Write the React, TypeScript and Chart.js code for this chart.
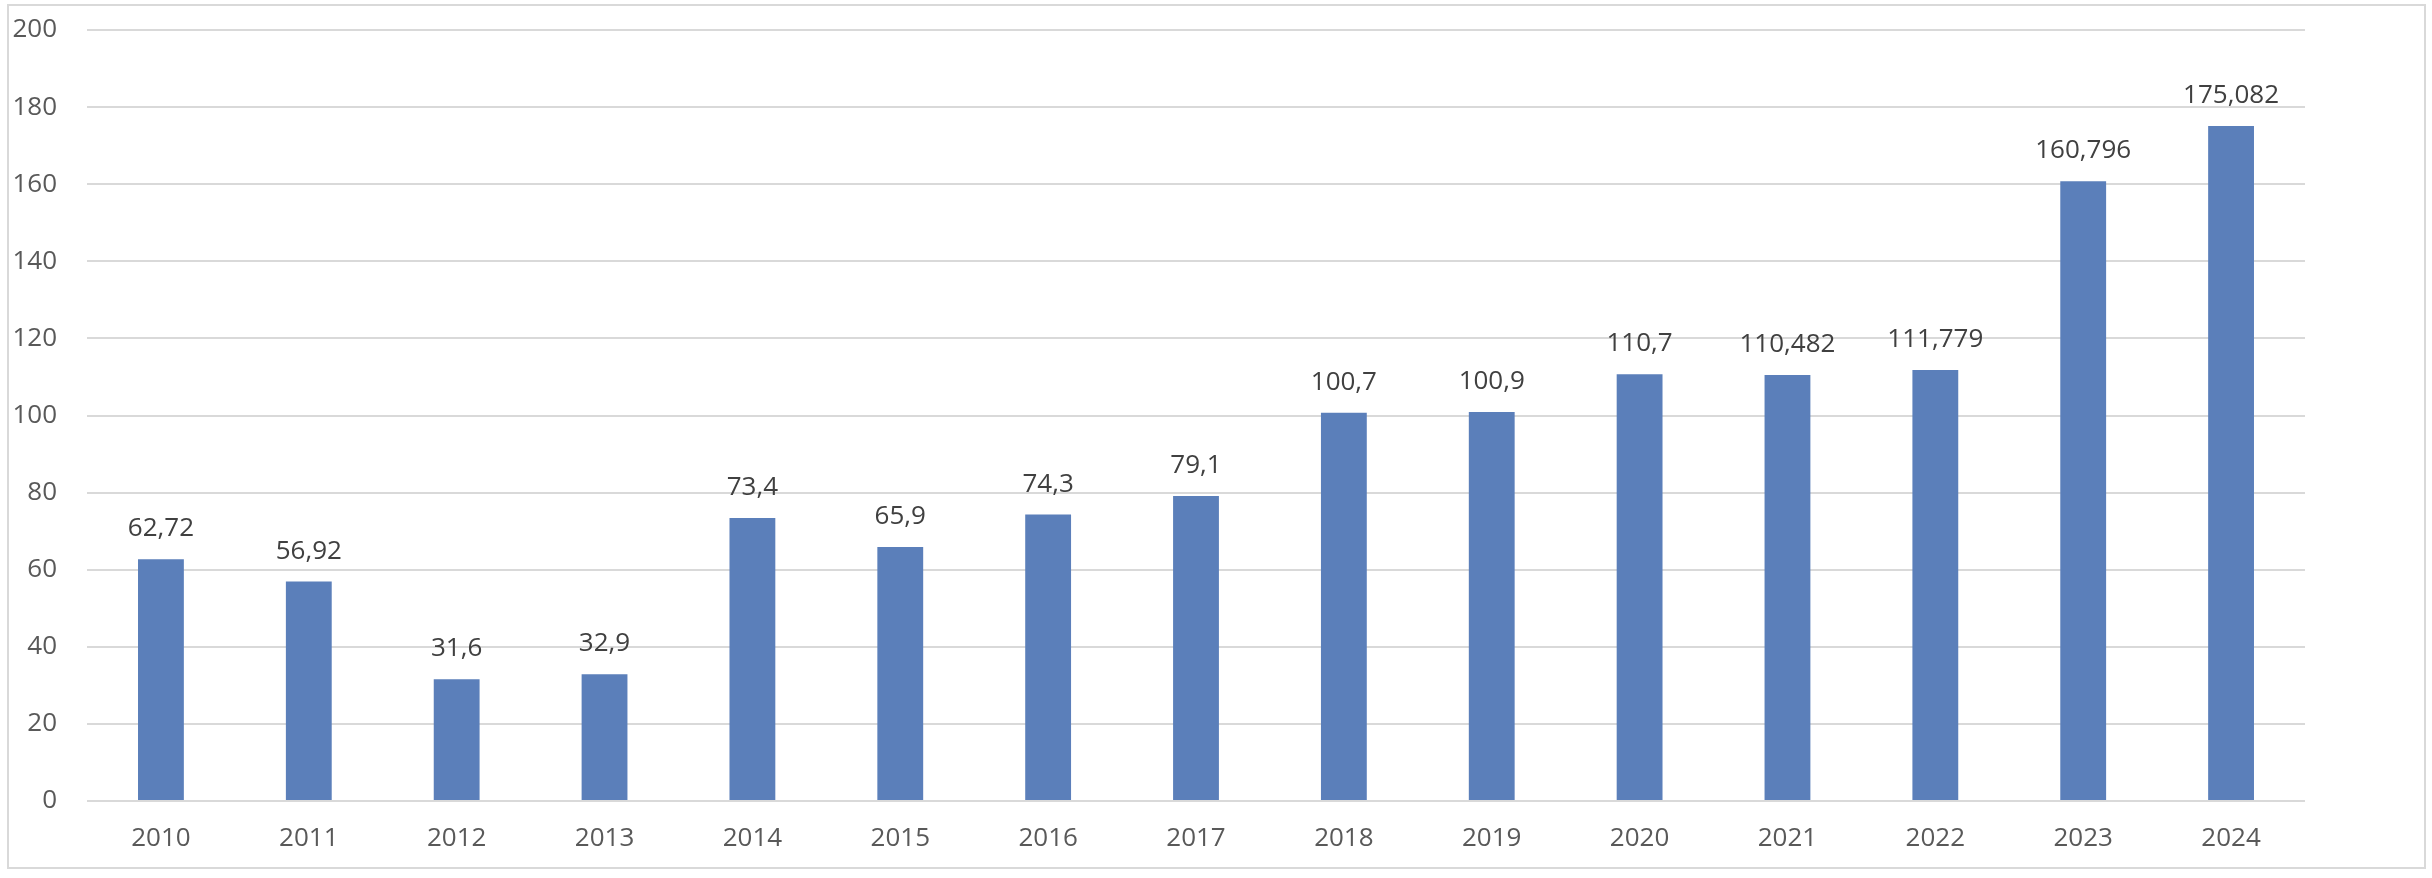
import React, { useEffect, useRef } from "react";
import { Chart, registerables } from "chart.js";

Chart.register(...registerables);

const years = ["2010", "2011", "2012", "2013", "2014", "2015", "2016", "2017", "2018", "2019", "2020", "2021", "2022", "2023", "2024"];
const values = [62.72, 56.92, 31.6, 32.9, 73.4, 65.9, 74.3, 79.1, 100.7, 100.9, 110.7, 110.482, 111.779, 160.796, 175.082];
const yMin = 0;
const yMax = 200;
const yStep = 20;

const FONT = "'Open Sans', Lato, sans-serif";

const fmt = (v: number) => String(v).replace(".", ",");

const framePlugin = {
  id: "frame",
  beforeDraw(chart: any) {
    const ctx = chart.ctx;
    ctx.save();
    ctx.fillStyle = "#ffffff";
    ctx.fillRect(0, 0, chart.width, chart.height);
    ctx.strokeStyle = "#d9d9d9";
    ctx.lineWidth = 2;
    ctx.strokeRect(8, 5, 2417, 863);
    ctx.restore();
  },
};

const labelPlugin = {
  id: "valueLabels",
  afterDatasetsDraw(chart: any) {
    const ctx = chart.ctx;
    const meta = chart.getDatasetMeta(0);
    ctx.save();
    ctx.font = `26px ${FONT}`;
    ctx.fillStyle = "#404040";
    ctx.textAlign = "center";
    ctx.textBaseline = "alphabetic";
    meta.data.forEach((bar: any, i: number) => {
      ctx.fillText(fmt(values[i]), bar.x, bar.y - 23);
    });
    ctx.restore();
  },
};

export default function App() {
  const ref = useRef<HTMLCanvasElement | null>(null);
  useEffect(() => {
    if (!ref.current) return;
    const chart = new Chart(ref.current, {
      type: "bar",
      data: {
        labels: years,
        datasets: [
          {
            data: values,
            backgroundColor: "#5b7fba",
            categoryPercentage: 1,
            barPercentage: 0.31,
          },
        ],
      },
      options: {
        animation: false,
        responsive: false,
        maintainAspectRatio: false,
        devicePixelRatio: 1,
        layout: { padding: { left: 0, right: 127, top: 30, bottom: 0 } },
        plugins: { legend: { display: false }, tooltip: { enabled: false } },
        scales: {
          x: {
            grid: { display: false, drawTicks: false },
            border: { display: false },
            ticks: { color: "#595959", font: { family: FONT, size: 26 }, padding: 22, maxRotation: 0 },
            afterFit(scale: any) {
              scale.height = 77;
              scale.paddingLeft = 0;
              scale.paddingRight = 0;
            },
          },
          y: {
            min: yMin,
            max: yMax,
            grid: { color: "#d9d9d9", lineWidth: 2, drawTicks: false },
            border: { display: false },
            ticks: { stepSize: yStep, color: "#595959", font: { family: FONT, size: 26 }, padding: 30 },
            afterFit(scale: any) {
              scale.width = 87;
              scale.paddingTop = 0;
              scale.paddingBottom = 0;
            },
          },
        },
      },
      plugins: [framePlugin, labelPlugin],
    });
    return () => chart.destroy();
  }, []);
  return (
    <div style={{ position: "fixed", left: 0, top: 0, width: 2432, height: 878 }}>
      <canvas ref={ref} width={2432} height={878} style={{ width: 2432, height: 878, display: "block" }} />
    </div>
  );
}
